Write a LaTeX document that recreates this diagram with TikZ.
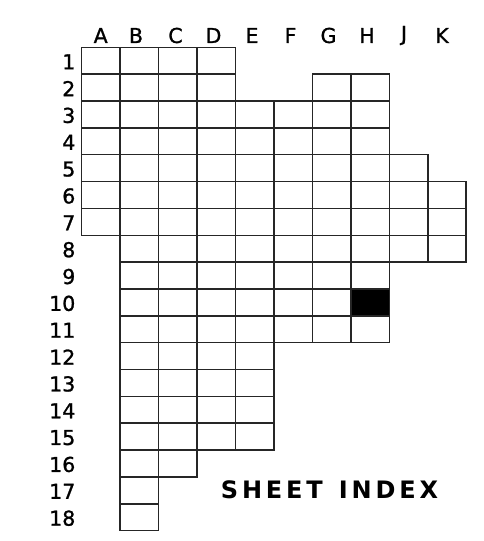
\documentclass[tikz,border=0pt]{standalone}
\usepackage{fontspec}
\setmainfont{DejaVu Sans}
\newfontfamily\labelfont[FakeBold=1.2]{DejaVu Sans}
\newfontfamily\titlefont[LetterSpace=16]{DejaVu Sans Bold}
\begin{document}
\begin{tikzpicture}[x=1pt,y=-1pt,
  cell/.style={draw=black!85,line width=1.5pt},
  filled/.style={fill=black,draw=black!85,line width=1.5pt},
  collabel/.style={font=\labelfont\fontsize{20.5}{20.5}\selectfont,inner sep=0pt,anchor=center},
  rowlabel/.style={font=\labelfont\fontsize{20.5}{20.5}\selectfont,inner sep=0pt,anchor=east},
  titlelabel/.style={font=\titlefont\fontsize{24}{24}\selectfont,inner sep=0pt,anchor=center}]
\useasboundingbox (0,0) rectangle (484,541);
\def\xo{81.7}\def\yo{47.3}\def\cw{38.45}\def\ch{26.85}
% grid cells: row / first column / last column
\foreach \r/\a/\b in {1/1/4,2/1/4,2/7/8,3/1/8,4/1/8,5/1/9,6/1/10,7/1/10,8/2/10,9/2/8,10/2/8,11/2/8,12/2/5,13/2/5,14/2/5,15/2/5,16/2/3,17/2/2,18/2/2}{
  \foreach \c in {\a,...,\b}{
    \draw[cell] ({\xo+(\c-1)*\cw},{\yo+(\r-1)*\ch}) rectangle +(\cw,\ch);
  }
}
% highlighted sheet H10
\draw[filled] ({\xo+7*\cw},{\yo+9*\ch}) rectangle +(\cw,\ch);
% column labels
\foreach \n/\l/\x in {cA/A/100.7,cB/B/136,cC/C/175.5,cD/D/213.5,cE/E/252,cF/F/290.5,cG/G/328.5,cH/H/367,cJ/J/404,cK/K/442}{
  \node[collabel] (\n) at (\x,35.5) {\l};
}
% row labels
\foreach \r in {1,...,18}{
  \node[rowlabel] (r\r) at (75.5,{\yo+(\r-0.5)*\ch+1}) {\r};
}
\node[titlelabel] (title) at (329.5,490) {SHEET\hspace{16pt}INDEX};
\end{tikzpicture}
\end{document}
